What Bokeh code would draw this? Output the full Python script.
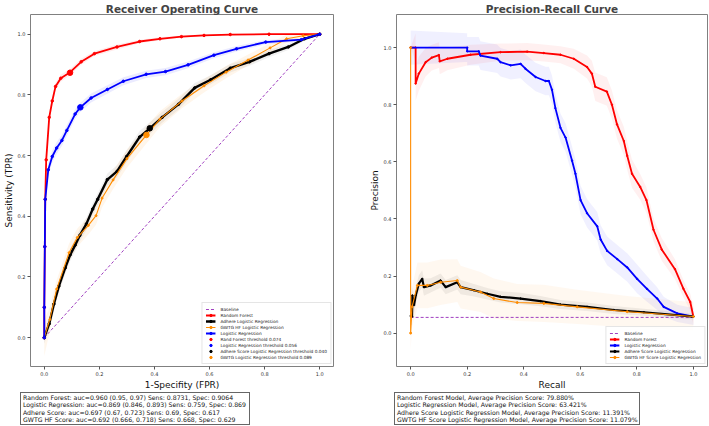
from bokeh.plotting import figure
from bokeh.layouts import row, column
from bokeh.models import Legend, LegendItem, FixedTicker, ColumnDataSource, Div
from bokeh.embed import file_html
from bokeh.resources import INLINE

# ---------------- ROC data ----------------
fpr_base = [0.0, 1.0]
tpr_base = [0.0, 1.0]

fpr_rf = [0.0, 0.0, 0.002, 0.0035, 0.007, 0.018, 0.029, 0.041, 0.060, 0.094, 0.134, 0.182, 0.264, 0.346, 0.42, 0.498, 0.58, 0.675, 0.816, 1.0]
tpr_rf = [0.0, 0.1, 0.30, 0.456, 0.586, 0.726, 0.78, 0.828, 0.855, 0.875, 0.909, 0.936, 0.958, 0.976, 0.985, 0.992, 0.996, 0.999, 1.0, 1.0]
hw_rf = [0.01, 0.02, 0.02, 0.02, 0.02, 0.015, 0.015, 0.012, 0.012, 0.01, 0.01, 0.008, 0.008, 0.006, 0.005, 0.004, 0.003, 0.002, 0.001, 0.0]

fpr_lr = [0.0, 0.0, 0.002, 0.0035, 0.0145, 0.029, 0.045, 0.064, 0.082, 0.112, 0.131, 0.17, 0.229, 0.287, 0.37, 0.44, 0.522, 0.616, 0.698, 0.804, 0.933, 1.0]
tpr_lr = [0.0, 0.1, 0.3, 0.456, 0.553, 0.597, 0.625, 0.650, 0.683, 0.737, 0.759, 0.79, 0.818, 0.845, 0.868, 0.877, 0.899, 0.931, 0.952, 0.974, 0.982, 1.0]
hw_lr = [0.01, 0.02, 0.02, 0.02, 0.02, 0.02, 0.02, 0.018, 0.018, 0.016, 0.015, 0.015, 0.014, 0.013, 0.012, 0.012, 0.011, 0.01, 0.009, 0.007, 0.005, 0.0]

fpr_ad = [0.0, 0.018, 0.035, 0.053, 0.076, 0.094, 0.112, 0.129, 0.153, 0.176, 0.194, 0.229, 0.264, 0.299, 0.346, 0.383, 0.428, 0.487, 0.546, 0.604, 0.675, 0.745, 0.816, 0.886, 0.945, 1.0]
tpr_ad = [0.0, 0.046, 0.111, 0.17, 0.23, 0.273, 0.305, 0.337, 0.375, 0.424, 0.456, 0.521, 0.548, 0.597, 0.661, 0.69, 0.726, 0.769, 0.823, 0.85, 0.888, 0.909, 0.936, 0.958, 0.985, 1.0]
hw_ad = [0.02, 0.02, 0.02, 0.02, 0.02, 0.02, 0.02, 0.02, 0.02, 0.02, 0.02, 0.02, 0.02, 0.02, 0.02, 0.02, 0.018, 0.018, 0.016, 0.015, 0.014, 0.013, 0.012, 0.01, 0.006, 0.0]

fpr_gw = [0.0, 0.02, 0.045, 0.09, 0.12, 0.16, 0.188, 0.21, 0.25, 0.30, 0.371, 0.42, 0.50, 0.58, 0.66, 0.74, 0.82, 0.88, 0.94, 1.0]
tpr_gw = [0.0, 0.06, 0.16, 0.28, 0.33, 0.37, 0.402, 0.46, 0.52, 0.59, 0.668, 0.72, 0.78, 0.83, 0.875, 0.915, 0.955, 0.985, 0.995, 1.0]
hw_gw = [0.06, 0.04, 0.03, 0.03, 0.03, 0.03, 0.03, 0.03, 0.03, 0.03, 0.028, 0.026, 0.024, 0.022, 0.02, 0.018, 0.016, 0.014, 0.01, 0.0]

thr_labels = ["Rand Forest threshold 0.074", "Logistic Regression threshold 0.056",
              "Adhere Score Logistic Regression threshold 0.040", "GWTG Logistic Regression threshold 0.089"]
thr_fpr = [0.0936, 0.131, 0.383, 0.371]
thr_tpr = [0.8731, 0.759, 0.69, 0.668]

roc_lines = ["Random Forest: auc=0.960 (0.95, 0.97) Sens: 0.8731, Spec: 0.9064",
             "Logistic Regression: auc=0.869 (0.846, 0.893) Sens: 0.759, Spec: 0.869",
             "Adhere Score: auc=0.697 (0.67, 0.723) Sens: 0.69, Spec: 0.617",
             "GWTG HF Score: auc=0.692 (0.666, 0.718) Sens: 0.668, Spec: 0.629"]

# ---------------- PR data ----------------
rec_base = [0.0, 1.0]
prec_base = [0.055, 0.055]

rec_rf = [0.0, 0.0177, 0.0177, 0.029, 0.053, 0.075, 0.1, 0.103, 0.13, 0.212, 0.318, 0.412, 0.471, 0.53, 0.577, 0.624, 0.641, 0.653, 0.694, 0.712, 0.73, 0.754, 0.766, 0.783, 0.812, 0.834, 0.859, 0.888, 0.935, 0.965, 0.989, 1.0]
prec_rf = [1.0, 1.0, 0.874, 0.909, 0.949, 0.965, 0.974, 0.952, 0.961, 0.975, 0.984, 0.986, 0.981, 0.975, 0.961, 0.932, 0.909, 0.863, 0.846, 0.8, 0.731, 0.673, 0.621, 0.558, 0.512, 0.466, 0.362, 0.293, 0.224, 0.155, 0.109, 0.058]
hw_prf = [0.0, 0.05, 0.06, 0.06, 0.05, 0.045, 0.045, 0.045, 0.04, 0.035, 0.03, 0.03, 0.03, 0.03, 0.035, 0.04, 0.045, 0.05, 0.05, 0.05, 0.05, 0.05, 0.05, 0.05, 0.045, 0.045, 0.04, 0.04, 0.035, 0.03, 0.03, 0.03]

rec_lr = [0.0, 0.2, 0.2, 0.241, 0.247, 0.306, 0.318, 0.354, 0.389, 0.406, 0.442, 0.477, 0.489, 0.5, 0.512, 0.53, 0.548, 0.571, 0.583, 0.601, 0.624, 0.66, 0.672, 0.695, 0.731, 0.766, 0.801, 0.836, 0.872, 0.895, 0.943, 1.0]
prec_lr = [1.0, 1.0, 0.987, 0.987, 0.972, 0.961, 0.949, 0.938, 0.943, 0.926, 0.897, 0.883, 0.883, 0.852, 0.788, 0.719, 0.685, 0.604, 0.558, 0.466, 0.42, 0.374, 0.328, 0.288, 0.259, 0.23, 0.19, 0.155, 0.121, 0.092, 0.069, 0.058]
hw_plr = [0.06, 0.05, 0.05, 0.05, 0.05, 0.05, 0.05, 0.05, 0.05, 0.05, 0.05, 0.05, 0.05, 0.05, 0.05, 0.05, 0.05, 0.05, 0.05, 0.05, 0.05, 0.05, 0.05, 0.05, 0.05, 0.05, 0.05, 0.045, 0.04, 0.035, 0.03, 0.03]

rec_ad = [0.0, 0.005, 0.006, 0.012, 0.018, 0.029, 0.041, 0.047, 0.071, 0.106, 0.124, 0.165, 0.177, 0.224, 0.271, 0.318, 0.389, 0.459, 0.53, 0.624, 0.719, 0.825, 1.0]
prec_ad = [0.06, 0.058, 0.132, 0.098, 0.132, 0.173, 0.19, 0.161, 0.167, 0.184, 0.161, 0.178, 0.161, 0.15, 0.138, 0.127, 0.121, 0.112, 0.1, 0.092, 0.081, 0.073, 0.058]
hw_pad = [0.03, 0.03, 0.03, 0.03, 0.03, 0.03, 0.03, 0.03, 0.025, 0.025, 0.025, 0.025, 0.025, 0.022, 0.02, 0.02, 0.02, 0.018, 0.016, 0.015, 0.014, 0.012, 0.01]

rec_gw = [0.0, 0.0, 0.005, 0.024, 0.059, 0.106, 0.165, 0.177, 0.247, 0.294, 0.377, 0.471, 0.589, 0.766, 1.0]
prec_gw = [1.0, 0.0, 0.092, 0.167, 0.167, 0.178, 0.184, 0.161, 0.144, 0.121, 0.107, 0.104, 0.092, 0.075, 0.058]
hw_pgw = [0.0, 0.06, 0.07, 0.08, 0.08, 0.08, 0.075, 0.075, 0.07, 0.07, 0.065, 0.065, 0.06, 0.055, 0.05]

pr_lines = ["Random Forest Model, Average Precision Score: 79.880%",
            "Logistic Regression Model, Average Precision Score: 63.421%",
            "Adhere Score Logistic Regression Model, Average Precision Score: 11.391%",
            "GWTG HF Score Logistic Regression Model, Average Precision Score: 11.079%"]

FONT = "DejaVu Sans"
C_RED = "#ff0000"
C_BLUE = "#0000ff"
C_BLACK = "#000000"
C_ORANGE = "#ff8c00"
C_BASE = "#a040c0"


def make_fig(title, xlabel, ylabel, yrange, width, border_left, border_right):
    p = figure(width=width, height=392, x_range=(-0.05, 1.05), y_range=yrange,
               output_backend="svg", toolbar_location=None,
               min_border_left=border_left, min_border_right=border_right,
               min_border_top=0, min_border_bottom=10, title=title)
    p.title.text_font = FONT
    p.title.text_font_size = "10.5px"
    p.title.text_font_style = "bold"
    p.title.align = "center"
    p.title.standoff = 0
    p.title.offset = 0
    p.grid.visible = False
    p.outline_line_color = "#808080"
    p.outline_line_width = 1
    p.background_fill_color = "white"
    for ax, lab in ((p.xaxis[0], xlabel), (p.yaxis[0], ylabel)):
        ax.ticker = FixedTicker(ticks=[0.0, 0.2, 0.4, 0.6, 0.8, 1.0])
        ax.major_label_overrides = {0.0: "0.0", 0.2: "0.2", 0.4: "0.4", 0.6: "0.6", 0.8: "0.8", 1.0: "1.0"}
        ax.major_label_text_font = FONT
        ax.major_label_text_font_size = "5px"
        ax.major_label_text_color = "#333333"
        ax.major_label_standoff = 2
        ax.major_tick_out = 3
        ax.major_tick_in = 0
        ax.minor_tick_out = 0
        ax.minor_tick_in = 0
        ax.major_tick_line_color = "#555555"
        ax.axis_line_color = None
        ax.axis_label = lab
        ax.axis_label_text_font = FONT
        ax.axis_label_text_font_size = "9px"
        ax.axis_label_text_font_style = "normal"
        ax.axis_label_text_color = "#111111"
        ax.axis_label_standoff = 1
    return p


def band(p, x, y, hw, color, alpha):
    lo = [yy - h for yy, h in zip(y, hw)]
    hi = [yy + h for yy, h in zip(y, hw)]
    p.varea(x=x, y1=lo, y2=hi, fill_color=color, fill_alpha=alpha)


def curve(p, x, y, color, width, msize=2.5):
    src = ColumnDataSource(dict(x=x, y=y))
    l = p.line("x", "y", source=src, line_color=color, line_width=width)
    s = p.scatter("x", "y", source=src, size=msize, fill_color=color, line_color=color, marker="circle")
    return [l, s]


def styled_legend(items, p):
    lg = Legend(items=items, location="bottom_right")
    lg.label_text_font = FONT
    lg.label_text_font_size = "4.3px"
    lg.label_text_color = "#222222"
    lg.glyph_width = 10
    lg.glyph_height = 6
    lg.label_height = 6
    lg.label_standoff = 5
    lg.spacing = 0
    lg.padding = 3
    lg.margin = 2
    lg.border_line_color = "#cccccc"
    lg.border_line_width = 0.8
    lg.background_fill_alpha = 0.85
    p.add_layout(lg)


def text_box(lines, width, left):
    inner = "<br>".join(lines)
    html = ('<div style="font-family: \'DejaVu Sans\', sans-serif; font-size: 6.2px; line-height: 7.3px; '
            'color: #111111; border: 1px solid #666666; padding: 1px 2px; white-space: nowrap; '
            'background: white; box-sizing: border-box; width: %dpx;">%s</div>' % (width, inner))
    return Div(text=html, width=width, height=33, margin=(0, 0, 0, left))


# ---------------- ROC figure ----------------
p1 = make_fig("Receiver Operating Curve", "1-Specifity (FPR)", "Sensitivity (TPR)",
              (-0.095, 1.065), 360, 10, 27)
band(p1, fpr_rf, tpr_rf, hw_rf, C_RED, 0.08)
band(p1, fpr_lr, tpr_lr, hw_lr, C_BLUE, 0.08)
band(p1, fpr_ad, tpr_ad, hw_ad, "#808080", 0.12)
band(p1, fpr_gw, tpr_gw, hw_gw, C_ORANGE, 0.08)

r_base = p1.line(fpr_base, tpr_base, line_color=C_BASE, line_width=1, line_dash="3 2")
r_rf = curve(p1, fpr_rf, tpr_rf, C_RED, 1.8)
r_ad = curve(p1, fpr_ad, tpr_ad, C_BLACK, 2.4)
r_gw = curve(p1, fpr_gw, tpr_gw, C_ORANGE, 1.1, 2.0)
r_lr = curve(p1, fpr_lr, tpr_lr, C_BLUE, 1.8)

thr_colors = [C_RED, C_BLUE, C_BLACK, C_ORANGE]
thr_r = []
for i in range(4):
    thr_r.append(p1.scatter([thr_fpr[i]], [thr_tpr[i]], size=5.5, fill_color=thr_colors[i],
                            line_color=thr_colors[i], marker="circle"))

items1 = [LegendItem(label="Baseline", renderers=[r_base]),
          LegendItem(label="Random Forest", renderers=r_rf),
          LegendItem(label="Adhere Logistic Regression", renderers=r_ad),
          LegendItem(label="GWTG HF Logistic Regression", renderers=r_gw),
          LegendItem(label="Logistic Regression", renderers=r_lr)]
for i in range(4):
    items1.append(LegendItem(label=thr_labels[i], renderers=[thr_r[i]]))
styled_legend(items1, p1)
d1 = text_box(roc_lines, 230, 20)

# ---------------- PR figure ----------------
p2 = make_fig("Precision-Recall Curve", "Recall", "Precision", (-0.117, 1.116), 348, 36, 1)
band(p2, rec_rf, prec_rf, hw_prf, C_RED, 0.06)
band(p2, rec_lr, prec_lr, hw_plr, C_BLUE, 0.06)
band(p2, rec_ad, prec_ad, hw_pad, "#808080", 0.12)
band(p2, rec_gw, prec_gw, hw_pgw, C_ORANGE, 0.06)

q_base = p2.line(rec_base, prec_base, line_color=C_BASE, line_width=1, line_dash="3 2")
q_rf = curve(p2, rec_rf, prec_rf, C_RED, 1.8, 1.5)
q_lr = curve(p2, rec_lr, prec_lr, C_BLUE, 1.8, 1.5)
q_ad = curve(p2, rec_ad, prec_ad, C_BLACK, 2.2, 1.5)
q_gw = curve(p2, rec_gw, prec_gw, C_ORANGE, 1.1, 2.0)

items2 = [LegendItem(label="Baseline", renderers=[q_base]),
          LegendItem(label="Random Forest", renderers=q_rf),
          LegendItem(label="Logistic Regression", renderers=q_lr),
          LegendItem(label="Adhere Score Logistic Regression", renderers=q_ad),
          LegendItem(label="GWTG HF Score Logistic Regression", renderers=q_gw)]
styled_legend(items2, p2)
d2 = text_box(pr_lines, 246, 34)

layout = row(column(p1, d1), column(p2, d2))
open("out.html", "w").write(file_html(layout, INLINE))
